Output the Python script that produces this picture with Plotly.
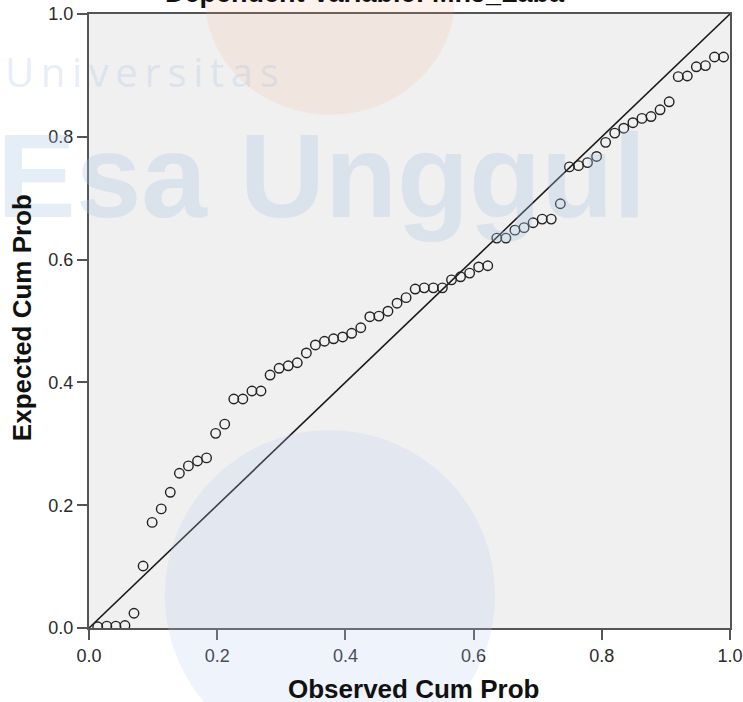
import plotly.graph_objects as go

# ---- data ----
observed_cum_prob = [
    0.0136, 0.0278, 0.0419, 0.0561, 0.0702, 0.0844, 0.0985, 0.1127, 0.1268, 0.1410,
    0.1551, 0.1693, 0.1834, 0.1976, 0.2117, 0.2259, 0.2400, 0.2542, 0.2683, 0.2825,
    0.2966, 0.3108, 0.3249, 0.3391, 0.3532, 0.3674, 0.3815, 0.3957, 0.4098, 0.4240,
    0.4381, 0.4523, 0.4664, 0.4806, 0.4947, 0.5089, 0.5230, 0.5372, 0.5513, 0.5655,
    0.5796, 0.5938, 0.6079, 0.6221, 0.6362, 0.6504, 0.6645, 0.6787, 0.6928, 0.7070,
    0.7211, 0.7353, 0.7494, 0.7636, 0.7777, 0.7919, 0.8060, 0.8202, 0.8343, 0.8485,
    0.8626, 0.8768, 0.8909, 0.9051, 0.9192, 0.9334, 0.9475, 0.9617, 0.9758, 0.9900,
]
expected_cum_prob = [
    0.002, 0.003, 0.003, 0.004, 0.024, 0.101, 0.172, 0.194, 0.221, 0.252,
    0.264, 0.272, 0.277, 0.317, 0.332, 0.373, 0.373, 0.386, 0.386, 0.412,
    0.423, 0.427, 0.432, 0.448, 0.461, 0.467, 0.471, 0.474, 0.480, 0.489,
    0.507, 0.508, 0.516, 0.529, 0.538, 0.552, 0.554, 0.554, 0.554, 0.567,
    0.572, 0.578, 0.588, 0.590, 0.635, 0.635, 0.648, 0.652, 0.660, 0.666,
    0.666, 0.691, 0.751, 0.753, 0.758, 0.768, 0.791, 0.806, 0.814, 0.823,
    0.830, 0.833, 0.844, 0.857, 0.898, 0.899, 0.914, 0.916, 0.930, 0.930,
]
reference_line = [0.0, 1.0]
tick_values = [0.0, 0.2, 0.4, 0.6, 0.8, 1.0]
tick_labels = ["0.0", "0.2", "0.4", "0.6", "0.8", "1.0"]
chart_title = "Dependent Variable: MnJ_Laba"
x_title = "Observed Cum Prob"
y_title = "Expected Cum Prob"

FONT = "Arial, Liberation Sans, sans-serif"

PLOT_L, PLOT_R, PLOT_T, PLOT_B = 89.3, 729.7, 14.3, 627.7   # page pixels
PW, PH = PLOT_R - PLOT_L, PLOT_B - PLOT_T


def px(x):
    return (x - PLOT_L) / PW


def py(y):
    return (PLOT_B - y) / PH


fig = go.Figure()
fig.add_trace(go.Scatter(
    x=reference_line, y=reference_line, mode="lines",
    line=dict(color="#1a1a1a", width=1.6),
    hoverinfo="skip", showlegend=False,
))
fig.add_trace(go.Scatter(
    x=observed_cum_prob, y=expected_cum_prob, mode="markers",
    marker=dict(symbol="circle-open", size=9.5, color="#222222",
                line=dict(width=1.4, color="#222222")),
    showlegend=False,
))

axis_common = dict(
    range=[0, 1], tickvals=tick_values, ticktext=tick_labels,
    ticks="outside", ticklen=10, tickwidth=2, tickcolor="#555555",
    showline=True, linecolor="#555555", linewidth=2, mirror=True,
    showgrid=False, zeroline=False, automargin=False,
    ticklabeloverflow="allow",
    tickfont=dict(family=FONT, size=18, color="#2a2a2a"),
)

annotations = [
    # watermark (semi-transparent overlay as in the reference)
    dict(text="\u2009".join("Universitas"), xref="paper", yref="paper",
         x=px(142), y=py(72), showarrow=False,
         xanchor="center", yanchor="middle",
         font=dict(family="Open Sans, Liberation Sans", size=40,
                   color="rgba(170,195,230,0.30)")),
    dict(text="<b>Esa Unggul</b>", xref="paper", yref="paper",
         x=px(322), y=py(176), showarrow=False,
         xanchor="center", yanchor="middle",
         font=dict(family=FONT, size=118, color="rgba(170,195,230,0.30)")),
    # title (cut at the top as in the reference)
    dict(text="<b>" + chart_title + "</b>", xref="paper", yref="paper",
         x=px(365), y=py(-7), showarrow=False,
         xanchor="center", yanchor="middle",
         font=dict(family=FONT, size=27, color="#111111")),
    dict(text="<b>" + x_title + "</b>", xref="paper", yref="paper",
         x=px(413.5), y=py(689), showarrow=False,
         xanchor="center", yanchor="middle",
         font=dict(family=FONT, size=26, color="#111111")),
    dict(text="<b>" + y_title + "</b>", xref="paper", yref="paper",
         x=px(22.5), y=py(318), showarrow=False, textangle=-90,
         xanchor="center", yanchor="middle",
         font=dict(family=FONT, size=26, color="#111111")),
]

shapes = [
    dict(type="circle", xref="paper", yref="paper", layer="above",
         x0=px(205), x1=px(455), y0=py(115), y1=py(-120),
         fillcolor="rgba(245,170,130,0.15)", line=dict(width=0)),
    dict(type="circle", xref="paper", yref="paper", layer="above",
         x0=px(165), x1=px(495), y0=py(760), y1=py(430),
         fillcolor="rgba(180,200,235,0.22)", line=dict(width=0)),
]

W, H = 743, 702
fig.update_layout(
    width=W, height=H,
    margin=dict(l=PLOT_L, r=W - PLOT_R, t=PLOT_T, b=H - PLOT_B,
                pad=0, autoexpand=False),
    paper_bgcolor="#ffffff", plot_bgcolor="#f0f0f0",
    xaxis=axis_common, yaxis=axis_common,
    annotations=annotations, shapes=shapes,
    font=dict(family=FONT),
)

# remove the default page margin so the figure sits at the window's corner
fig.write_html("out.html", config={"displayModeBar": False},
               post_script="document.body.style.margin='0';")
